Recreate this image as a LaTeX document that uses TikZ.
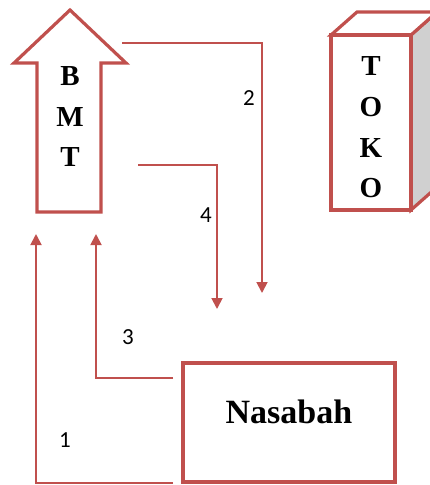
\documentclass[tikz,border=0pt]{standalone}
\usepackage{fontspec}
\setmainfont{Liberation Serif}
\newfontfamily\lblfont{Carlito}
\usetikzlibrary{arrows.meta}
\definecolor{ored}{HTML}{C0504D}
\definecolor{sidegray}{HTML}{D0D0D0}
\tikzset{
  shapeline/.style={draw=ored, line width=3.2pt, line join=miter},
  conn/.style={draw=ored, line width=1.8pt, -{Triangle[width=11pt,length=11pt]}},
  lbl/.style={font=\lblfont\fontsize{23}{25}\selectfont, text=black, inner sep=0pt},
  big/.style={font=\bfseries\fontsize{29}{31}\selectfont, inner sep=0pt},
}
\begin{document}
\begin{tikzpicture}[x=1pt,y=-1pt]
\useasboundingbox (0,0) rectangle (430,485);
% BMT arrow
\draw[shapeline, fill=white] (70,10) -- (126,63) -- (101,63) -- (101,212) -- (37,212) -- (37,63) -- (14,63) -- cycle;
\node[big] (bmtB) at (70,76) {B};
\node[big] (bmtM) at (70,117) {M};
\node[big] (bmtT) at (70,157) {T};
% TOKO box
\draw[shapeline, fill=sidegray] (411,35) -- (437,12) -- (437,187) -- (411,210) -- cycle;
\draw[shapeline, fill=white] (331,35) -- (357,12) -- (437,12) -- (411,35) -- cycle;
\draw[shapeline, fill=white] (331,35) rectangle (411,210);
\node[big] (tk1) at (371,66) {T};
\node[big] (tk2) at (371,107) {O};
\node[big] (tk3) at (371,148) {K};
\node[big] (tk4) at (371,188) {O};
% Nasabah
\node[shapeline, minimum width=212pt, minimum height=119pt, inner sep=0pt] (nas) at (289,422.5) {};
\node[font=\bfseries\fontsize{34}{36}\selectfont, inner sep=0pt] (nastext) at (289,412) {Nasabah};
% connector endpoints
\coordinate (s2) at (122,43);
\coordinate (e2) at (262,293);
\coordinate (s4) at (138,165);
\coordinate (e4) at (217,309);
\coordinate (s1) at (173,483);
\coordinate (e1) at (36,234);
\coordinate (s3) at (173,378);
\coordinate (e3) at (96,234);
\draw[conn] (s2) -| (e2);
\draw[conn] (s4) -| (e4);
\draw[conn] (s1) -| (e1);
\draw[conn] (s3) -| (e3);
\node[lbl] (l2) at (249,98) {2};
\node[lbl] (l4) at (206,215) {4};
\node[lbl] (l3) at (128,337) {3};
\node[lbl] (l1) at (65,440) {1};
\end{tikzpicture}
\end{document}
